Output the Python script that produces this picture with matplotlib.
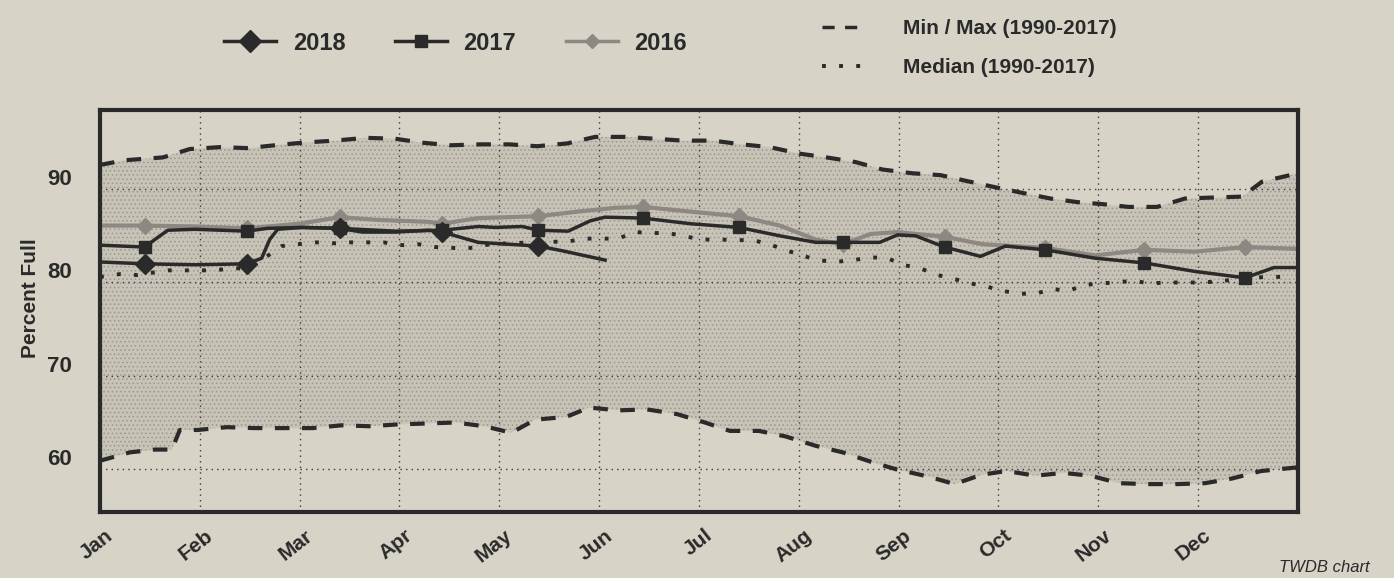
import numpy as np
import matplotlib
matplotlib.use("Agg")
import matplotlib.pyplot as plt
from matplotlib.lines import Line2D
from matplotlib.transforms import ScaledTranslation

plt.rcParams['font.family'] = ['Liberation Sans', 'DejaVu Sans']
plt.rcParams['hatch.linewidth'] = 0.6

months = ['Jan', 'Feb', 'Mar', 'Apr', 'May', 'Jun',
          'Jul', 'Aug', 'Sep', 'Oct', 'Nov', 'Dec']
# mid-month positions where the yearly markers sit
mid_month = [0.45, 1.47, 2.40, 3.43, 4.39, 5.44, 6.40, 7.44, 8.46, 9.47, 10.46, 11.47]

# x is in months since Jan 1
max_x = [0.00, 0.25, 0.63, 0.90, 1.20, 1.48, 1.75, 2.05, 2.35, 2.66, 2.96, 3.21,
         3.51, 3.81, 4.10, 4.38, 4.68, 4.96, 5.26, 5.56, 5.84, 6.14, 6.43, 6.71,
         7.01, 7.28, 7.57, 7.84, 8.14, 8.42, 8.67, 8.97, 9.24, 9.52, 9.80, 10.04,
         10.30, 10.59, 10.87, 11.14, 11.44, 11.64, 12.00]
max_y = [92.6, 93.1, 93.4, 94.3, 94.5, 94.4, 94.7, 95.0, 95.2, 95.5, 95.4, 95.0,
         94.7, 94.8, 94.8, 94.6, 94.9, 95.6, 95.6, 95.4, 95.2, 95.2, 94.8, 94.5,
         93.8, 93.4, 92.9, 92.1, 91.7, 91.5, 90.9, 90.2, 89.6, 89.0, 88.6, 88.4,
         88.1, 88.1, 89.0, 89.1, 89.2, 90.8, 91.7]

min_x = [0.00, 0.30, 0.55, 0.72, 0.80, 0.98, 1.27, 1.55, 1.84, 2.13, 2.42, 2.70,
         2.99, 3.29, 3.56, 3.85, 4.12, 4.36, 4.67, 4.90, 5.19, 5.48, 5.78, 6.06,
         6.31, 6.60, 6.87, 7.17, 7.44, 7.72, 7.97, 8.30, 8.56, 8.83, 9.08, 9.37,
         9.65, 9.92, 10.21, 10.48, 10.79, 11.07, 11.34, 11.63, 12.00]
min_y = [60.9, 61.8, 62.1, 62.1, 64.2, 64.2, 64.5, 64.4, 64.4, 64.4, 64.7, 64.6,
         64.8, 64.9, 65.0, 64.6, 63.9, 65.3, 65.6, 66.6, 66.3, 66.4, 65.9, 65.0,
         64.1, 64.1, 63.5, 62.5, 61.8, 60.8, 60.0, 59.2, 58.4, 59.4, 59.8, 59.3,
         59.6, 59.3, 58.5, 58.4, 58.4, 58.5, 59.0, 59.8, 60.2]

med_x = [0.00, 0.20, 0.37, 0.68, 0.85, 1.10, 1.50, 1.70, 1.82, 1.98, 2.17, 2.33,
         2.51, 2.68, 2.84, 3.03, 3.19, 3.36, 3.54, 3.71, 3.91, 4.31, 4.69, 4.86,
         5.03, 5.19, 5.36, 5.53, 5.69, 5.88, 6.04, 6.21, 6.56, 6.73, 6.89, 7.03,
         7.19, 7.36, 7.55, 7.72, 7.89, 8.04, 8.22, 8.39, 8.55, 8.72, 8.87, 9.04,
         9.22, 9.37, 9.54, 9.70, 9.85, 10.00, 10.19, 10.34, 10.52, 10.69, 10.85,
         11.02, 11.19, 11.35, 11.67, 11.95]
med_y = [80.6, 80.9, 80.8, 81.3, 81.3, 81.3, 81.6, 83.0, 83.9, 84.1, 84.3, 84.2,
         84.3, 84.3, 84.3, 84.0, 84.1, 83.8, 83.7, 83.7, 84.1, 84.3, 84.4, 84.7,
         84.7, 84.7, 85.4, 85.3, 85.3, 84.9, 84.6, 84.6, 84.5, 84.0, 83.4, 82.9,
         82.4, 82.2, 82.4, 82.7, 82.6, 81.9, 81.5, 80.8, 80.4, 79.9, 79.6, 79.1,
         78.8, 78.8, 79.3, 79.1, 79.7, 79.9, 80.0, 80.2, 79.9, 80.0, 80.0,
         80.0, 80.1, 80.3, 80.6, 80.6]

y2018_x = [0.00, 0.45, 0.95, 1.47, 1.62, 1.70, 1.78, 2.02, 2.40, 2.63, 2.96, 3.29,
           3.43, 3.79, 4.39, 4.63, 5.06]
y2018_y = [82.2, 82.0, 81.9, 82.0, 82.6, 84.6, 85.7, 85.9, 85.8, 85.4, 85.4, 85.6,
           85.4, 84.3, 83.9, 83.4, 82.4]

y2017_x = [0.00, 0.45, 0.55, 0.68, 0.95, 1.47, 1.68, 2.02, 2.40, 2.96, 3.43, 3.79,
           3.96, 4.23, 4.39, 4.69, 4.91, 5.06, 5.44, 5.91, 6.40, 6.81, 7.17, 7.44,
           7.81, 7.99, 8.17, 8.46, 8.82, 9.07, 9.47, 9.97, 10.46, 10.96, 11.47,
           11.76, 12.00]
y2017_y = [84.0, 83.8, 84.6, 85.6, 85.7, 85.5, 85.8, 85.9, 85.8, 85.5, 85.6, 86.0,
           85.9, 86.0, 85.6, 85.5, 86.6, 87.0, 86.9, 86.3, 85.9, 85.0, 84.3, 84.3,
           84.3, 85.1, 85.0, 83.8, 82.8, 83.9, 83.5, 82.6, 82.1, 81.2, 80.5,
           81.6, 81.6]

y2016_x = [0.00, 0.45, 0.95, 1.47, 2.00, 2.40, 2.79, 3.29, 3.43, 3.79, 4.39, 4.79,
           5.16, 5.44, 5.91, 6.40, 6.81, 7.17, 7.44, 7.72, 7.99, 8.46, 8.84, 9.47,
           9.97, 10.46, 10.96, 11.47, 12.00]
y2016_y = [86.1, 86.1, 86.0, 85.8, 86.3, 87.0, 86.7, 86.5, 86.3, 86.9, 87.1, 87.6,
           88.0, 88.1, 87.6, 87.1, 86.1, 84.6, 84.1, 85.2, 85.4, 84.9, 84.1, 83.7,
           82.9, 83.5, 83.3, 83.8, 83.6]


def marks(xs):
    return [i for i, v in enumerate(xs) if v in mid_month]


paper = '#d8d3c7'
dark = '#2a2a2a'
light = '#8d8881'
dash = (0, (3.5, 3))
dots = (0, (1, 3.4))

fig = plt.figure(figsize=(13.94, 5.78), dpi=100)
fig.patch.set_facecolor(paper)
ax = fig.add_axes([0.0717, 0.114, 0.8594, 0.696])
ax.set_facecolor(paper)

# shaded historical band (stippled like the newsprint halftone)
ax.fill(np.r_[max_x, min_x[::-1]], np.r_[max_y, min_y[::-1]],
        facecolor='#c8c3b7', edgecolor='#9d988e', linewidth=0,
        hatch='....', zorder=1)

ax.plot(max_x, max_y, color=dark, lw=3, ls=dash, zorder=3)
ax.plot(min_x, min_y, color=dark, lw=3, ls=dash, zorder=3)
ax.plot(med_x, med_y, color=dark, lw=2.8, ls=dots, zorder=3)

ax.plot(y2016_x, y2016_y, color=light, lw=3, marker='D', ms=8,
        markevery=marks(y2016_x), zorder=4)
ax.plot(y2017_x, y2017_y, color=dark, lw=2.5, marker='s', ms=9,
        markevery=marks(y2017_x), zorder=5)
ax.plot(y2018_x, y2018_y, color=dark, lw=2.5, marker='D', ms=10,
        markevery=marks(y2018_x), zorder=6)

ax.set_xlim(0, 12)
ax.set_ylim(55.4, 98.5)
ax.set_yticks([60, 70, 80, 90])
ax.set_xticks(range(12))
ax.set_xticklabels(months, rotation=38, ha='right', va='top',
                   rotation_mode='anchor', fontsize=15, fontweight='bold',
                   color=dark)
ax.tick_params(axis='x', length=0, pad=10)
ax.tick_params(axis='y', length=0, pad=20, labelsize=16, labelcolor=dark)
for lab in ax.get_yticklabels():
    lab.set_fontweight('bold')
    lab.set_transform(lab.get_transform() + ScaledTranslation(0, 0.12, fig.dpi_scale_trans))
for lab in ax.get_xticklabels():
    lab.set_transform(lab.get_transform() + ScaledTranslation(0.05, 0, fig.dpi_scale_trans))

ax.grid(True, color='#3a3a3a', ls=(0, (1, 3)), lw=1)
for s in ax.spines.values():
    s.set_linewidth(3)
    s.set_color(dark)
    s.set_zorder(10)

fig.text(30 / 1394, 1 - 298 / 578, 'Percent Full', rotation=90, ha='center',
         va='center', fontsize=15, fontweight='bold', color=dark)

h_years = [
    Line2D([], [], color=dark, lw=2.5, marker='D', ms=11),
    Line2D([], [], color=dark, lw=2.5, marker='s', ms=9),
    Line2D([], [], color=light, lw=2.5, marker='D', ms=7),
]
fig.legend(h_years, ['2018', '2017', '2016'], ncol=3, frameon=False,
           loc='center left', bbox_to_anchor=(203 / 1394, 1 - 43 / 578),
           prop={'size': 17, 'weight': 'bold'}, handlelength=2.2,
           handletextpad=0.7, columnspacing=2.1, labelcolor=dark)

h_hist = [
    Line2D([], [], color=dark, lw=2.5, ls=dash),
    Line2D([], [], color=dark, lw=2.8, ls=dots),
]
fig.legend(h_hist, ['Min / Max (1990-2017)', 'Median (1990-2017)'],
           frameon=False, loc='center left',
           bbox_to_anchor=(803 / 1394, 1 - 48 / 578),
           prop={'size': 15, 'weight': 'bold'}, handlelength=2.1,
           handletextpad=1.8, labelspacing=0.95, labelcolor=dark)

fig.text(1370 / 1394, 1 - 567 / 578, 'TWDB chart', ha='right', va='center',
         fontsize=12, style='italic', color=dark)

fig.savefig('out.png', dpi=100, facecolor=paper)
